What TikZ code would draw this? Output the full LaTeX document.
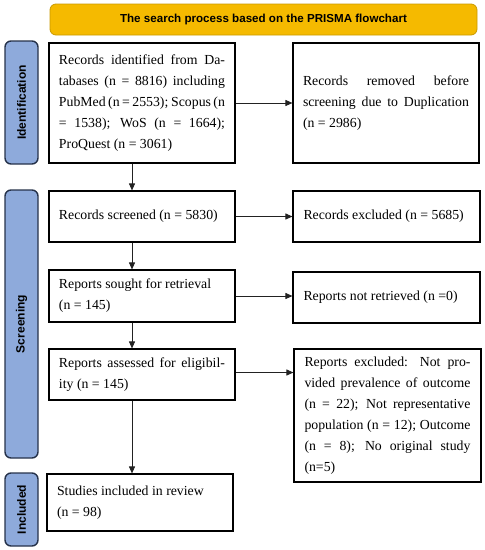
\documentclass[tikz,border=0pt]{standalone}
\usepackage{fontspec}
\setmainfont{Liberation Serif}
\setsansfont{Liberation Sans}
\usetikzlibrary{arrows.meta,calc}
\definecolor{gold}{HTML}{F5BA00}
\definecolor{goldedge}{HTML}{C99A00}
\definecolor{sideblue}{HTML}{8EAADB}
\definecolor{sideedge}{HTML}{26324A}
\definecolor{arrowc}{HTML}{222222}
\tikzset{
  flowbox/.style={draw=black, line width=1.1pt, rectangle, inner sep=0pt,
    font=\fontsize{13.8}{21}\selectfont, align=justify},
  sidebar/.style={draw=sideedge, line width=1.4pt, fill=sideblue, rounded corners=6pt,
    inner sep=0pt},
  sidelabel/.style={rotate=90, font=\sffamily\bfseries\fontsize{12}{14}\selectfont},
  arr/.style={draw=arrowc, line width=0.9pt, -{Triangle[length=7pt,width=6pt]}},
}
\begin{document}
\begin{tikzpicture}[x=1pt,y=-1pt]
\useasboundingbox (0,0) rectangle (485,550);
% title
\node[draw=goldedge, line width=0.8pt, fill=gold, rounded corners=6pt,
  minimum width=427pt, minimum height=31pt, inner sep=0pt,
  font=\sffamily\bfseries\fontsize{11.6}{13}\selectfont] (title) at (263.5,19.5)
  {The search process based on the PRISMA flowchart};
% side bars
\node[sidebar, minimum width=33pt, minimum height=123pt] (ident) at (21.5,102.5) {};
\node[sidelabel] (identlbl) at (ident.center) {Identification};
\node[sidebar, minimum width=33pt, minimum height=268pt] (screen) at (21.5,324) {};
\node[sidelabel] (screenlbl) at (screen.center) {Screening};
\node[sidebar, minimum width=33pt, minimum height=73pt] (incl) at (21.5,509.5) {};
\node[sidelabel] (incllbl) at (incl.center) {Included};
% boxes
\node[flowbox, minimum width=186pt, minimum height=120pt, text width=166pt] (b1) at (142,103)
  {Records identified from Da-\linebreak tabases (n = 8816) including\linebreak PubMed (n = 2553); Scopus (n\linebreak = 1538); WoS (n = 1664);\linebreak ProQuest (n = 3061)};
\node[flowbox, minimum width=186pt, minimum height=120pt, text width=166pt] (b2) at (386,103)
  {Records removed before\linebreak screening due to Duplication\linebreak (n = 2986)};
\node[flowbox, minimum width=186pt, minimum height=51pt, text width=166pt] (b3) at (142,216.5)
  {Records screened (n = 5830)};
\node[flowbox, minimum width=187pt, minimum height=51pt, text width=166pt] (b4) at (386.5,216.5)
  {Records excluded (n = 5685)};
\node[flowbox, minimum width=186pt, minimum height=52pt, text width=166pt] (b5) at (142,296)
  {Reports sought for retrieval\\(n = 145)};
\node[flowbox, minimum width=187pt, minimum height=51pt, text width=166pt] (b6) at (386.5,297.5)
  {Reports not retrieved (n =0)};
\node[flowbox, minimum width=186pt, minimum height=51pt, text width=166pt] (b7) at (142,374.5)
  {Reports assessed for eligibil-\linebreak ity (n = 145)};
\node[flowbox, minimum width=187pt, minimum height=133pt, text width=166pt] (b8) at (387.5,415.5)
  {Reports excluded: Not pro-\linebreak vided prevalence of outcome\linebreak (n = 22); Not representative\linebreak population (n = 12); Outcome\linebreak (n = 8); No original study\linebreak (n=5)};
\node[flowbox, minimum width=186pt, minimum height=57pt, text width=166pt] (b9) at (140,502.5)
  {Studies included in review\\(n = 98)};
% arrows
\draw[arr] (b1.east) -- (b1.east -| b2.west);
\draw[arr] (b3.east) -- (b3.east -| b4.west);
\draw[arr] (b5.east) -- (b5.east -| b6.west);
\draw[arr] ([yshift=2pt]b7.east) -- ([yshift=2pt]b7.east -| b8.west);
\draw[arr] ([xshift=-10pt]b1.south) -- ([xshift=-10pt]b1.south |- b3.north);
\draw[arr] ([xshift=-10pt]b3.south) -- ([xshift=-10pt]b3.south |- b5.north);
\draw[arr] ([xshift=-10pt]b5.south) -- ([xshift=-10pt]b5.south |- b7.north);
\draw[arr] ([xshift=-10pt]b7.south) -- ([xshift=-10pt]b7.south |- b9.north);
\end{tikzpicture}
\end{document}
